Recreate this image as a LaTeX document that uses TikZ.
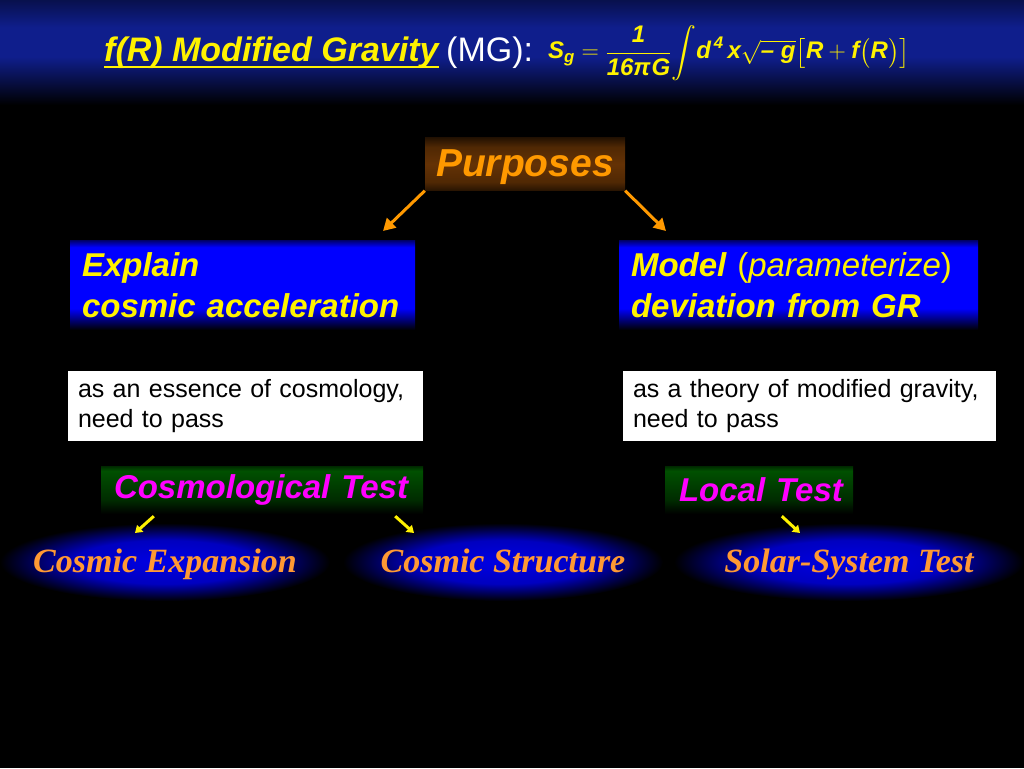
\RequirePackage{fix-cm}
\documentclass[tikz,border=0pt]{standalone}
\usepackage{fontspec}
\usepackage{amsmath}
\setmainfont{Liberation Sans}
\newfontfamily\timesfont{Liberation Serif}
\usetikzlibrary{arrows.meta,shapes.geometric}

\definecolor{purporange}{RGB}{255,153,0}
\definecolor{ellorange}{RGB}{255,153,51}
\definecolor{bandblue}{RGB}{15,30,140}
\definecolor{boxbrown}{RGB}{100,50,5}
\definecolor{boxgreen}{RGB}{0,80,0}
\definecolor{testmagenta}{RGB}{255,0,255}

\pgfdeclareverticalshading{titleband}{100bp}{color(0bp)=(black); color(25bp)=(black); color(48bp)=(bandblue); color(62bp)=(bandblue); color(75bp)=(bandblue!55!black); color(100bp)=(bandblue!55!black)}
\pgfdeclareverticalshading{bluefade}{100bp}{color(0bp)=(black); color(25bp)=(black); color(37bp)=(blue); color(71bp)=(blue); color(75bp)=(blue!40!black); color(100bp)=(blue!40!black)}
\pgfdeclareverticalshading{brownfade}{100bp}{color(0bp)=(black); color(25bp)=(boxbrown!40!black); color(33bp)=(boxbrown!80!black); color(50bp)=(boxbrown); color(66bp)=(boxbrown!80!black); color(75bp)=(boxbrown!35!black); color(100bp)=(boxbrown!35!black)}
\pgfdeclareverticalshading{greenfade}{100bp}{color(0bp)=(black); color(25bp)=(black); color(40bp)=(boxgreen!55!black); color(70bp)=(boxgreen); color(75bp)=(boxgreen!50!black); color(100bp)=(boxgreen!50!black)}
\pgfdeclareradialshading{ellglow}{\pgfpoint{0bp}{0bp}}{color(0bp)=(blue!90!black); color(14bp)=(blue!75!black); color(25bp)=(black); color(50bp)=(black)}

\newcommand{\tx}[1]{\text{#1}}

\begin{document}
\begin{tikzpicture}[x=1pt,y=-1pt,
    bluebox/.style={rectangle,shading=bluefade,inner xsep=12pt,minimum height=90pt,align=left,text=yellow,
        font=\fontsize{33}{41}\selectfont\bfseries\itshape},
    passbox/.style={rectangle,fill=white,inner xsep=10pt,minimum height=70pt,align=left,text=black,
        font=\fontsize{25}{30}\selectfont},
    testbox/.style={rectangle,shading=greenfade,inner xsep=13pt,minimum height=48pt,align=left,text=testmagenta,
        font=\fontsize{33}{38}\selectfont\bfseries\itshape},
    glow/.style={ellipse,shading=ellglow,inner sep=0pt,minimum height=78pt,text height=28pt,text depth=8pt,
        text=ellorange,font=\fontsize{34}{40}\selectfont\timesfont\bfseries\itshape},
    parrow/.style={draw=purporange,line width=3pt,-{Triangle[length=12pt,width=13pt]}},
    yarrow/.style={draw=yellow,line width=3pt,-{Triangle[length=7pt,width=9pt]}}]
    \useasboundingbox (0,0) rectangle (1024,768);
    \fill[black] (0,0) rectangle (1024,768);
    \shade[shading=titleband] (0,0) rectangle (1024,105);

    % title and action
    \node[anchor=base west,inner sep=0pt,text=yellow,font=\fontsize{34}{38}\selectfont\bfseries\itshape] (title) at (104,62)
        {f(R) Modified Gravity};
    \draw[yellow,line width=2.5pt] ([yshift=-5pt]title.base west) -- ([yshift=-5pt]title.base east);
    \node[anchor=base west,inner sep=0pt,text=white,font=\fontsize{34}{38}\selectfont] (mg) at (446,62) {(MG):};
    \node[anchor=base west,inner sep=0pt,text=yellow,font=\fontsize{24}{28}\selectfont\bfseries\itshape] (action) at (548,59)
        {$\displaystyle \tx{S}_{\tx{g}} = \frac{\tx{1}}{\tx{16π\kern1pt G}}\!\int\! \tx{d}^{\,\tx{4}}\,\tx{x}\sqrt{\tx{– g}}\bigl[\tx{R} + \tx{f}\bigl(\tx{R}\bigr)\bigr]$};

    % purposes
    \node[rectangle,shading=brownfade,minimum width=200pt,minimum height=53pt,text=purporange,text height=30pt,text depth=5pt,
        font=\fontsize{39}{44}\selectfont\bfseries\itshape] (purp) at (525,164) {Purposes};
    \node[bluebox,text width=321pt] (expl) at (242.5,285) {Explain\\cosmic acceleration};
    \node[bluebox,text width=335pt] (model) at (798.5,285) {Model {\mdseries\upshape(\textit{parameterize})}\\deviation from GR};
    \coordinate (pt1) at (383,231);
    \coordinate (pt2) at (666,231);
    \draw[parrow] (purp.south west) -- (pt1);
    \draw[parrow] (purp.south east) -- (pt2);

    % requirements
    \node[passbox,text width=335pt] (essence) at (245.5,406) {as an essence of cosmology,\\need to pass};
    \node[passbox,text width=353pt] (theory) at (809.5,406) {as a theory of modified gravity,\\need to pass};

    % tests
    \node[testbox,text width=296pt] (cosmo) at (262,490) {\mbox{Cosmological Test}};
    \node[testbox,inner xsep=14pt,text width=160pt] (local) at (759,490) {\mbox{Local Test}};
    \node[glow,minimum width=330pt] (expan) at (165,562) {\makebox[0pt]{Cosmic Expansion}};
    \node[glow,minimum width=320pt] (struc) at (503,562) {\makebox[0pt]{Cosmic Structure}};
    \node[glow,minimum width=350pt] (solar) at (849,562) {\makebox[0pt]{Solar-System Test}};
    \coordinate (yt1) at (135,533);
    \coordinate (yt2) at (414,533);
    \coordinate (yt3) at (800,533);
    \draw[yarrow] ([xshift=53pt,yshift=-2pt]cosmo.south west) -- (yt1);
    \draw[yarrow] ([xshift=-28pt,yshift=-2pt]cosmo.south east) -- (yt2);
    \draw[yarrow] ([xshift=117pt,yshift=-2pt]local.south west) -- (yt3);
\end{tikzpicture}
\end{document}
